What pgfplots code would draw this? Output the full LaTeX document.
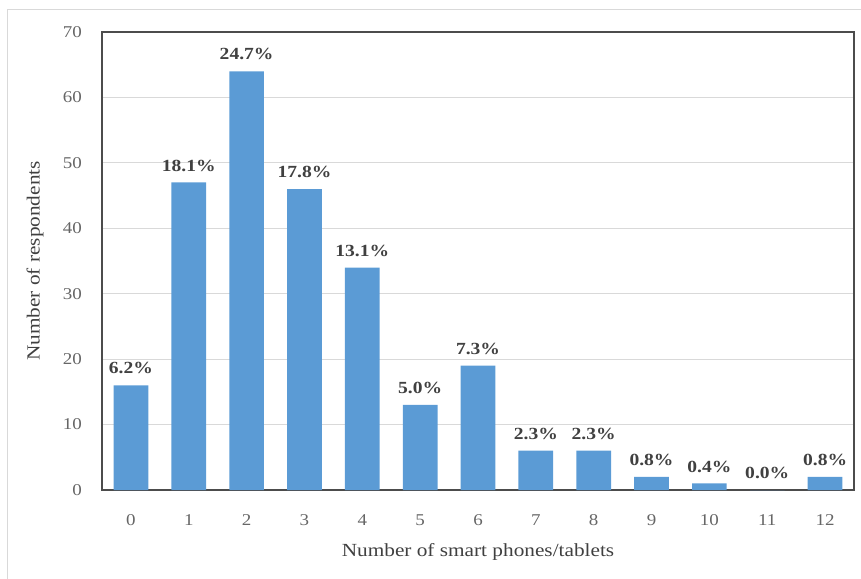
\documentclass[border=0pt]{standalone}
\usepackage{fontspec}
\setmainfont{Liberation Serif}[FakeStretch=1.15]
\usepackage{pgfplots}
\pgfplotsset{compat=1.18}
\definecolor{barblue}{HTML}{5B9BD5}
\definecolor{tickgray}{HTML}{666666}
\definecolor{labgray}{HTML}{404040}
\definecolor{gridgray}{HTML}{D9D9D9}
\begin{document}
\begin{tikzpicture}
\path[use as bounding box] (-102pt,-88pt) rectangle (759pt,490pt);
\draw[gridgray, line width=1pt] (-94pt,-100pt) -- (-94pt,480pt) -- (770pt,480pt);
\begin{axis}[
  scale only axis,
  width=752pt, height=458pt,
  at={(0pt,0pt)}, anchor=south west,
  xmin=-0.5, xmax=12.5,
  ymin=0, ymax=70,
  ytick={0,10,...,70},
  xtick={0,...,12},
  /pgf/number format/assume math mode=true,
  major tick length=0pt,
  ymajorgrids,
  grid style={gridgray, line width=0.8pt},
  axis line style={draw=black!70, line width=1.3pt},
  ybar, bar width=0.6,
  tick label style={font=\fontsize{16.5}{18}\selectfont, text=tickgray, inner sep=0pt},
  yticklabel style={anchor=east, xshift=-20pt},
  xticklabel style={anchor=north, yshift=-24pt},
  xlabel={Number of smart phones/tablets},
  ylabel={Number of respondents},
  label style={font=\fontsize{18.5}{20}\selectfont, text=labgray, inner sep=0pt},
  xlabel style={at={([yshift=-62pt]axis description cs:0.5,0)}, anchor=center},
  ylabel style={at={([xshift=-67pt]axis description cs:0,0.5)}, anchor=center},
  point meta=explicit symbolic,
  nodes near coords,
  nodes near coords style={font=\bfseries\fontsize{17}{18}\selectfont, text=labgray, anchor=south, inner sep=0pt, yshift=11pt},
]
\addplot[fill=barblue, draw=none] coordinates {
  (0,16) [6.2\%]
  (1,47) [18.1\%]
  (2,64) [24.7\%]
  (3,46) [17.8\%]
  (4,34) [13.1\%]
  (5,13) [5.0\%]
  (6,19) [7.3\%]
  (7,6) [2.3\%]
  (8,6) [2.3\%]
  (9,2) [0.8\%]
  (10,1) [0.4\%]
  (11,0) [0.0\%]
  (12,2) [0.8\%]
};
\end{axis}
\end{tikzpicture}
\end{document}
